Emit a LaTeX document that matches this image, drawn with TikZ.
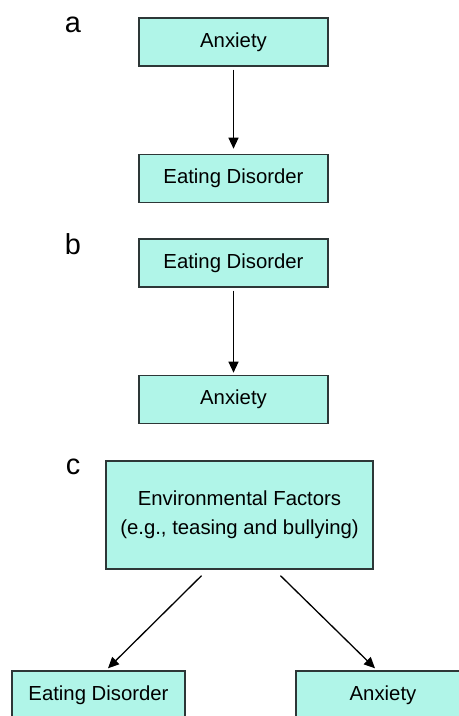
\documentclass[tikz,border=0pt]{standalone}
\usepackage{fontspec}
\setmainfont{Liberation Sans}
\usepackage{tikz}
\usetikzlibrary{arrows.meta, positioning}
\definecolor{boxfill}{RGB}{176,245,232}
\definecolor{boxline}{RGB}{45,55,55}

\begin{document}
\begin{tikzpicture}[x=1bp, y=1bp,
    box/.style={draw=boxline, fill=boxfill, line width=1.4bp, inner sep=0pt,
        minimum width=189bp, minimum height=48bp, align=center,
        font=\fontsize{20.4}{29}\selectfont},
    panel/.style={anchor=base, font=\fontsize{29}{29}\selectfont},
    arr/.style={-{Triangle[length=11bp, width=10bp]}, line width=1.3bp}]
    % Frame
    \useasboundingbox (0,0) rectangle (459,716);
    \clip (0,0) rectangle (459,716);

        % Panel a
        \node[panel] (la) at (73,683) {a};
        \node[box] (anxA) at (233.5,674) {Anxiety};
        \node[box, below=87bp of anxA] (edA) {Eating Disorder};
        \draw[arr, shorten <=3bp, shorten >=5bp] (anxA) -- (edA);

        % Panel b
        \node[panel] (lb) at (73,461) {b};
        \node[box] (edB) at (233.5,453) {Eating Disorder};
        \node[box, below=87bp of edB] (anxB) {Anxiety};
        \draw[arr, shorten <=3bp, shorten >=2bp] (edB) -- (anxB);

        % Panel c
        \node[panel] (lc) at (73,241) {c};
        \node[box, minimum width=267bp, minimum height=108bp] (env) at (239.5,201)
            {Environmental Factors\\(e.g., teasing and bullying)};
        \node[box, minimum width=173bp] (edC) at (98.5,21) {Eating Disorder};
        \node[box, minimum width=174bp] (anxC) at (383,21) {Anxiety};
        \draw[arr] ([xshift=-38bp, yshift=-6bp]env.south) -- ([xshift=9.5bp, yshift=2bp]edC.north);
        \draw[arr] ([xshift=41bp, yshift=-6bp]env.south) -- ([xshift=-8bp, yshift=2bp]anxC.north);
\end{tikzpicture}
\end{document}
